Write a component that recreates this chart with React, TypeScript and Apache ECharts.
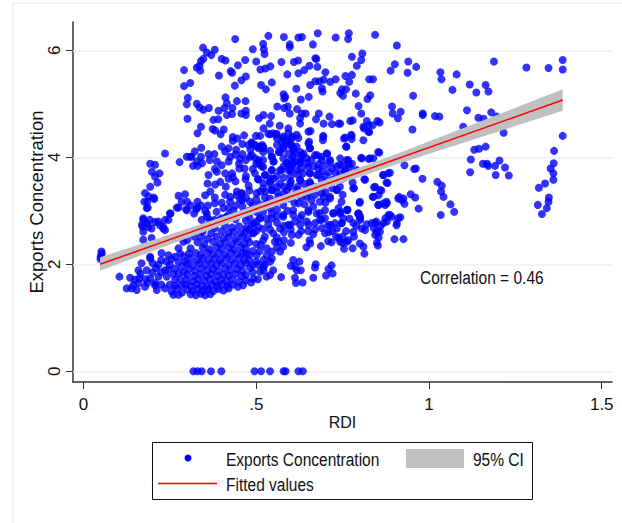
import React, { useEffect, useRef } from "react";
import * as echarts from "echarts";

const upperLeft: number[][] = [
[.439,6.21],[.535,6.27],[.58,6.25],[.678,6.32],[.622,6.24],[.632,6.25],[.597,6.11],[.597,6.06],[.52,6.12],[.522,6.02],[.524,5.93],[.49,6.02],[.664,6.11],[.73,6.24],
[.346,6.05],[.357,5.96],[.37,5.91],[.38,6.01],[.347,5.84],[.34,5.8],[.336,5.71],[.328,5.68],[.338,5.62],[.291,5.63],[.309,5.39],[.291,5.33],[.4,5.84],[.411,5.81],
[.447,5.72],[.468,5.82],[.5,5.79],[.426,5.61],[.43,5.58],[.392,5.53],[.573,5.78],[.512,5.64],[.526,5.66],[.541,5.7],[.609,5.78],[.621,5.81],[.654,5.71],[.677,5.69],[.671,5.85],[.674,5.84],
[.59,5.55],[.622,5.57],[.639,5.63],[.7,5.59],[.47,5.51],[.457,5.44],[.438,5.34],[.514,5.35],[.528,5.27],[.545,5.4],[.616,5.28],[.656,5.35],[.671,5.42],[.683,5.42],[.695,5.45],[.69,5.29],[.692,5.23],
[.714,5.41],[.73,5.46],[.743,5.2],[.579,5.18],[.584,5.13],[.581,5.1],[.629,5.08],[.652,5.13],[.302,5.11],[.299,4.99],[.328,5],[.336,4.93],[.347,4.89],[.363,4.92],
[.411,5.12],[.415,5.01],[.408,4.92],[.391,4.87],[.431,4.92],[.415,4.79],[.43,4.81],[.444,5.05],[.469,5.05],[.457,4.82],[.47,4.87],[.47,4.79],[.301,4.72],[.376,4.7],[.39,4.71],
[.561,4.95],[.581,4.92],[.591,4.95],[.597,4.82],[.618,4.9],[.632,4.82],[.627,4.73],[.627,4.63],[.643,4.82],[.508,4.73],[.521,4.79],[.543,4.77],[.539,4.63],
[.681,4.82],[.673,4.71],[.695,4.63],[.712,4.76],[.719,4.62],[.738,4.63],[.568,4.59],[.593,4.54],[.521,4.54],[.34,4.57],[.33,4.45],[.374,4.53],[.381,4.5],[.406,4.52],[.397,4.43],
[.657,4.49],[.694,4.4],[.693,4.32],[.432,4.38],[.445,4.35],[.432,4.31],[.465,4.41],[.499,4.4],[.511,4.4],[.541,4.43],[.558,4.42],
[.579,4.39],[.604,4.39],[.622,4.36],[.589,4.29],[.598,4.23],[.608,4.17],[.579,4.17],[.56,4.23],[.565,4.1],[.574,4.29],[.653,4.29],[.656,4.17],
[.487,4.28],[.478,4.23],[.517,4.23],[.507,4.17],[.521,4.17],[.483,4.14],[.487,4.04],[.497,3.98],[.507,3.95],[.4,4.2],[.42,4.17],[.41,4.11],[.442,4.14],[.425,4.01],[.42,3.92],
[.341,4.18],[.322,4.11],[.313,4.01],[.299,4.01],[.309,4.01],[.236,4.07],[.278,3.91],[.362,4.06],[.379,4.06],[.34,4.01],[.365,3.95],[.386,3.92],[.328,3.92],[.317,3.84],[.33,3.84],[.343,3.89],
[.453,3.97],[.545,4.01],[.55,3.92],[.613,4.07],[.637,4.07],[.627,3.92],[.608,3.89],[.598,3.79],[.579,3.83],[.589,3.89],[.569,3.76],[.618,3.76],
[.647,3.98],[.676,4.04],[.69,3.95],[.705,4.07],[.714,3.92],[.733,3.83],[.743,3.98],[.666,3.83],[.647,3.89],
[.193,3.88],[.207,3.86],[.198,3.73],[.22,3.7],[.207,3.64],[.214,3.53],[.193,3.45],[.178,3.33],[.203,3.25],[.188,3.27],[.275,3.28],[.294,3.31],[.352,3.29],[.367,3.36],
[.362,3.67],[.359,3.51],[.381,3.49],[.396,3.54],[.412,3.45],[.386,3.73],[.41,3.7],[.43,3.7],[.432,3.63],[.451,3.79],[.466,3.79],[.469,3.59],[.478,3.47],
[.505,3.59],[.516,3.83],[.526,3.67],[.545,3.76],[.55,3.6],[.569,3.51],[.56,3.45],[.598,3.51],[.627,3.57],[.656,3.7],[.68,3.67],[.656,3.51],[.7,3.51],[.733,3.39],
[.425,3.26],[.444,3.36],[.458,3.33],[.512,3.36],[.526,3.36],[.545,3.39],[.589,3.39],[.618,3.39],[.647,3.26],[.695,3.26],[.714,3.26],
];

const upperRight: number[][] = [
[.768,6.32],[.766,6.21],[.844,6.29],[.907,6.09],[.807,5.94],[.804,5.82],[.777,5.88],[.791,5.71],[.901,5.74],[.889,5.62],[.94,5.79],[.938,5.58],[.963,5.69],
[1.033,5.59],[1.036,5.46],[1.08,5.55],[1.188,5.79],[1.282,5.68],[1.346,5.67],[1.387,5.82],[1.387,5.64],[1.118,5.36],[1.068,5.26],[1.137,5.21],[1.164,5.35],[1.172,5.23],
[.758,5.52],[.777,5.54],[.769,5.41],[.827,5.46],[.838,5.46],[.748,5.27],[.76,5.27],[.751,5.15],[.788,5.19],[.822,5.09],[.83,5.16],[.954,5.15],[.796,4.96],[.804,4.82],
[.893,4.95],[.895,4.82],[.918,4.85],[.91,4.73],[.982,4.82],[.982,4.79],[1.017,4.77],[1.03,4.76],[1.11,4.88],[1.143,4.74],[1.158,4.72],[1.18,4.84],[1.196,4.76],[1.099,4.57],
[.772,4.68],[.779,4.69],[.743,4.63],[.82,4.68],[.81,4.57],[.825,4.6],[.837,4.6],[.851,4.68],[.857,4.65],[.812,4.54],[.827,4.47],[.952,4.52],[1.216,4.46],
[.754,4.35],[.775,4.42],[.776,4.34],[.81,4.32],[.761,4.2],[1.387,4.4],[1.362,4.12],[1.131,4.14],[1.145,4.16],[1.164,4.2],[.856,4.09],[.839,3.98],[.825,3.97],[.804,3.99],
[1.121,3.96],[1.156,3.88],[1.171,3.84],[1.168,3.88],[1.204,3.94],[1.191,3.84],[1.22,3.81],[1.193,3.67],[1.231,3.66],[1.119,3.72],[1.361,3.89],[1.352,3.79],[1.36,3.7],[1.36,3.58],
[1.336,3.51],[1.318,3.43],[1.347,3.25],[.929,3.85],[.957,3.78],[.962,3.79],[.981,3.6],[.867,3.67],[.887,3.71],[.88,3.52],[1.024,3.54],[1.037,3.47],[1.035,3.36],[1.042,3.26],
[.813,3.59],[.779,3.53],[.783,3.42],[.841,3.44],[.862,3.38],[.854,3.29],[.837,3.26],[.914,3.26],[.926,3.23],[.947,3.31],[.96,3.25],[.767,3.88],[.75,3.85],[.762,3.95],[.777,3.88],[.743,3.7],[.757,3.73],
];

const lowerRight: number[][] = [
[1.346,3.17],[1.315,3.11],[1.341,3.05],[1.327,2.94],[1.062,3.12],[1.034,2.92],[1.073,2.98],[.97,3.04],[.929,3.13],[.921,3.2],[.854,3.11],[.868,3.14],[.878,3.14],[.873,3.11],[.799,3.15],
[.764,3.02],[.743,2.95],[.748,2.77],[.781,2.77],[.801,2.89],[.796,2.95],[.834,2.77],[.847,2.8],[.868,2.77],[.883,2.92],[.892,2.89],[.907,2.77],[.917,2.88],[.878,2.8],
[.781,2.61],[.806,2.67],[.815,2.64],[.849,2.61],[.858,2.61],[.844,2.55],[.854,2.5],[.783,2.52],[.767,2.45],[.75,2.52],[.9,2.47],[.926,2.47],
[.849,2.4],[.852,2.35],[.813,2.2],[.81,2.33],[.8,2.39],[.779,2.3],[.754,2.29],[.743,2.42],[.762,2.42],
];

const lowerMiddle: number[][] = [
[.607,2.08],[.6,1.97],[.625,2.05],[.612,1.96],[.629,1.89],[.617,1.89],[.672,2],[.67,1.94],[.718,1.98],[.709,1.91],[.721,1.83],[.702,1.79],[.572,1.76],[.612,1.75],[.615,1.65],[.634,1.66],[.665,1.75],
[.645,2.32],[.656,2.39],[.665,2.56],[.687,2.34],[.654,2.45],[.699,2.58],[.708,2.43],[.718,2.41],[.731,2.52],[.738,2.49],
[.603,2.55],[.622,2.55],[.593,2.74],[.569,2.67],[.612,2.8],[.627,2.74],[.651,2.74],[.67,2.77],[.684,2.83],[.699,2.86],[.714,2.74],[.733,2.67],[.747,2.77],
[.578,2.33],[.569,2.24],[.545,2.24],[.545,2.11],[.54,2.05],[.53,2.17],[.525,2.52],[.549,2.58],[.554,2.42],[.564,2.42],[.513,2.37],[.53,2.3],[.501,2.17],[.521,2.08],[.506,1.99],[.482,1.93],[.492,1.73],[.53,1.77],[.549,1.89],[.54,1.8],[.521,1.89],[.525,1.99],[.511,1.86],
[.487,2.74],[.511,2.86],[.545,2.86],[.578,2.92],[.607,2.92],[.627,2.86],[.492,2.58],[.506,2.7],[.651,2.98],[.684,2.96],[.723,2.96],[.743,2.98],[.763,3.02],[.796,2.95],[.801,2.83],
];

const leftSide: number[][] = [
[.185,3.17],[.176,3.17],[.183,3.05],[.205,3.22],[.27,3.06],[.284,3.17],[.3,3.17],[.299,3.01],[.33,3.17],[.327,3.03],
[.25,2.95],[.236,2.83],[.221,2.73],[.207,2.79],[.173,2.86],[.183,2.77],[.197,2.67],[.231,2.7],[.188,2.7],[.171,2.7],
[.352,3],[.357,2.89],[.342,2.83],[.366,2.83],[.38,3.14],[.385,2.98],[.405,3.05],[.424,3.17],[.443,3.29],[.458,3.32],[.472,2.98],[.453,3.2],[.434,3],[.414,2.89],[.395,2.83],[.38,2.83],
[.186,3.06],[.173,2.83],[.192,2.83],[.216,2.8],[.231,2.67],[.246,2.83],[.252,2.95],[.275,3.06],[.297,3.03],[.329,3.06],[.357,2.95],[.371,2.8],[.169,2.74],[.173,2.61],[.173,2.46],[.197,2.49],[.236,2.64],
[.052,2.24],[.05,2.15],[.049,2.1],[.053,2.2],[.104,1.77],
[.135,1.75],[.149,1.71],[.162,1.74],[.125,1.55],[.139,1.55],[.154,1.52],[.178,1.58],[.193,1.74],[.183,1.89],[.159,1.89],[.168,2.02],[.193,2.11],[.173,2.27],[.193,2.14],[.226,2.21],[.246,2.17],[.265,2.14],[.275,2.3],[.289,2.42],
[.217,1.99],[.236,1.89],[.25,1.99],[.265,1.92],[.284,1.96],[.275,1.83],[.241,1.77],[.217,1.77],[.207,1.65],[.212,1.52],[.236,1.55],[.265,1.71],[.27,1.55],[.284,1.61],[.255,1.49],[.275,1.43],[.26,1.43],[.285,1.47],[.207,1.61],[.144,1.61],
];

const denseMass: number[][] = [
[.31,1.44],[.325,1.42],[.34,1.45],[.352,1.42],[.367,1.44],[.3,1.53],[.316,1.5],[.33,1.54],[.345,1.51],[.36,1.53],[.376,1.5],[.39,1.54],[.405,1.51],[.42,1.55],
[.295,1.62],[.31,1.59],[.328,1.63],[.343,1.6],[.358,1.58],[.372,1.62],[.387,1.6],[.402,1.63],[.417,1.6],[.432,1.62],[.447,1.58],[.462,1.61],
[.298,1.71],[.315,1.68],[.332,1.72],[.35,1.69],[.366,1.72],[.382,1.68],[.398,1.71],[.414,1.69],[.43,1.72],[.45,1.68],[.47,1.7],[.485,1.66],[.505,1.72],
[.3,1.81],[.32,1.78],[.338,1.82],[.355,1.79],[.37,1.82],[.388,1.78],[.405,1.81],[.42,1.79],[.44,1.82],[.458,1.78],[.47,1.8],
[.305,1.91],[.322,1.88],[.34,1.92],[.358,1.89],[.375,1.91],[.39,1.88],[.41,1.92],[.425,1.89],[.445,1.91],[.46,1.88],
[.3,2.01],[.318,1.98],[.335,2.02],[.352,1.99],[.37,2.01],[.385,1.98],[.4,2.02],[.42,1.99],[.438,2.01],[.455,1.98],[.47,2.02],[.49,1.98],
[.31,2.11],[.33,2.08],[.345,2.12],[.362,2.09],[.38,2.11],[.395,2.08],[.415,2.12],[.43,2.09],[.45,2.11],[.465,2.08],
[.325,2.21],[.34,2.18],[.36,2.22],[.375,2.19],[.392,2.21],[.41,2.18],[.428,2.22],[.445,2.19],[.46,2.21],[.48,2.18],
[.345,2.31],[.365,2.28],[.385,2.32],[.4,2.29],[.42,2.31],[.435,2.28],[.455,2.32],[.47,2.29],
[.33,2.41],[.35,2.38],[.375,2.42],[.395,2.39],[.41,2.41],[.43,2.38],[.445,2.42],[.465,2.39],[.48,2.41],[.5,2.38],
[.34,2.51],[.36,2.48],[.385,2.52],[.405,2.49],[.42,2.51],[.44,2.48],[.46,2.52],[.475,2.49],
[.345,2.61],[.37,2.58],[.4,2.62],[.42,2.59],[.435,2.61],[.455,2.58],[.47,2.62],[.49,2.59],
[.355,2.71],[.38,2.68],[.41,2.72],[.43,2.69],[.45,2.71],[.47,2.68],[.4,2.86],[.42,2.92],[.44,2.84],[.46,2.95],[.48,2.88],[.5,2.98],
];

const centerBand: number[][] = [
[.511,4.2],[.497,4.23],[.52,4.1],[.545,4.01],[.55,3.92],[.525,3.67],[.545,3.76],[.506,3.59],[.54,3.61],[.573,3.76],[.588,3.89],[.607,4.01],[.603,3.86],[.627,3.89],[.632,4.04],[.651,4.26],[.655,4.17],[.67,4.04],[.689,4.01],[.704,4.07],[.713,3.95],
[.636,3.7],[.655,3.7],[.675,3.67],[.689,3.58],[.627,3.58],[.598,3.45],[.655,3.54],[.68,3.79],[.588,4.32],[.602,4.35],[.578,4.2],[.602,4.23],[.617,4.2],[.593,4.07],[.607,4.14],[.627,4.1],[.569,4.1],[.578,3.98],[.593,3.76],[.612,3.92],
[.742,3.86],[.766,3.95],[.771,3.82],[.757,3.76],[.791,3.76],[.805,3.98],[.829,3.98],[.853,4.1],[.844,3.45],[.858,3.39],[.882,3.7],[.868,3.67],[.877,3.53],[.815,3.58],[.839,3.26],[.853,3.11],[.877,3.17],[.911,3.23],[.8,3.17],[.781,3.42],[.733,3.39],[.742,3.45],
[.713,3.23],[.747,3.17],[.738,3.05],[.763,3.01],[.795,2.95],[.8,2.86],[.844,2.77],[.874,2.86],[.887,2.92],[.911,2.86],[.906,2.73],
[.675,3.45],[.651,3.33],[.689,3.33],[.684,3.17],[.665,3.08],[.651,3.01],[.622,3.14],[.593,3.23],[.564,3.26],[.545,3.39],[.52,3.42],[.501,3.33],[.482,3.17],[.54,3.23],[.578,3.11],[.607,3.01],[.632,2.92],[.675,2.95],[.699,3.01],[.723,2.95],[.578,2.89],[.545,2.95],[.511,2.86],[.492,2.77],[.598,2.73],[.646,2.8],[.689,2.83],[.708,2.73],[.728,2.77],[.752,2.86],
[.487,4.26],[.501,4.2],[.52,4.2],[.482,4.01],[.506,3.89],[.496,3.7],[.52,3.82],[.549,4.45],[.535,4.44],[.559,4.44],[.578,4.35],[.593,4.45],[.617,4.42],[.651,4.48],[.694,4.38],[.757,4.37],[.776,4.4],[.76,4.2],[.825,4.48],
];

const fillLeft: number[][] = [
[.165,1.82],[.18,1.72],[.2,1.85],[.21,1.93],[.225,1.85],[.245,1.9],[.26,1.82],[.28,1.72],[.2,2.02],[.225,2.08],[.24,2.05],[.255,2.1],[.275,2.05],[.29,2.15],[.31,2.3],[.3,2.45],[.32,2.52],[.28,2.2],[.185,1.65],[.16,1.65],[.225,1.62],[.25,1.62],[.265,1.6],[.29,1.85],[.295,2.05],[.305,2.2],
[.36,3.1],[.38,3.25],[.4,3.15],[.41,3.3],[.42,3.05],[.44,3.1],[.46,3.2],[.34,3.1],[.31,3.1],[.32,2.95],
];

const fillMiddle: number[][] = [
[.48,2.65],[.5,2.62],[.52,2.66],[.535,2.75],[.56,2.78],[.58,2.72],[.47,2.82],[.5,2.8],[.53,2.85],[.56,2.9],[.48,3.0],[.5,3.02],[.52,2.98],[.54,3.05],[.56,3.02],[.59,3.0],[.46,3.08],[.49,3.1],[.51,3.12],[.53,3.14],[.555,3.15],[.575,3.2],[.47,3.25],[.5,3.22],[.525,3.25],[.56,3.35],[.58,3.32],[.61,3.3],[.63,3.25],[.48,3.38],[.52,3.52],[.54,3.5],[.58,3.45],[.6,3.55],[.62,3.45],[.64,3.5],[.6,3.65],[.62,3.68],[.58,3.62],[.56,3.65],[.65,3.4],[.67,3.3],[.66,3.2],[.7,3.15],[.64,3.12],[.61,3.15],
[.6,3.75],[.63,3.8],[.65,3.82],[.68,3.87],[.7,3.85],[.72,3.8],[.69,3.74],[.71,3.72],[.73,3.7],[.75,3.6],[.72,3.58],[.7,3.65],[.66,3.95],[.63,3.98],[.6,3.95],[.7,3.35],[.72,3.42],[.75,3.3],
[.56,2.5],[.58,2.6],[.6,2.65],[.63,2.62],[.65,2.62],[.67,2.65],[.69,2.68],[.71,2.6],[.72,2.62],[.56,2.32],[.58,2.45],[.6,2.4],[.52,2.45],[.54,2.65],[.77,2.85],[.79,2.72],[.76,2.62],[.75,2.4],[.82,2.75],[.84,2.68],[.86,2.72],
[.44,3.55],[.47,3.65],[.49,3.78],[.5,3.88],[.45,3.88],[.47,3.95],[.46,4.06],[.44,4.05],[.4,3.85],[.38,3.78],[.42,3.6],[.46,4.25],[.54,3.55],[.52,3.95],[.54,4.12],[.56,4.35],
[.5,2.05],[.49,1.85],[.48,2.08],[.47,2.2],[.49,2.25],[.51,2.25],[.52,1.95],
];

const zeroRow: number[][] = [
[.318,0],[.33,0],[.342,0],[.369,0],[.399,0],[.495,0],[.514,0],[.54,0],[.579,0],[.585,0],[.622,0],[.635,0],
];

const allPoints = [...upperLeft, ...upperRight, ...lowerRight, ...lowerMiddle, ...leftSide, ...denseMass, ...centerBand, ...fillLeft, ...fillMiddle, ...zeroRow];

const fitX = [0.048, 1.387];
const fitY = [2.0, 5.07];
const ciX = [.048, .2, .35, .5, .7, .9, 1.1, 1.25, 1.387];
const ciUpper = [2.13, 2.45, 2.77, 3.11, 3.575, 4.05, 4.55, 4.925, 5.27];
const ciLower = [1.88, 2.25, 2.61, 2.96, 3.415, 3.855, 4.27, 4.585, 4.87];
const xTicks = [0, 0.5, 1, 1.5];
const xTickLabels = ["0", ".5", "1", "1.5"];
const yTicks = [0, 2, 4, 6];
const seriesNames = ["Exports Concentration", "95% CI", "Fitted values"];
const note = "Correlation = 0.46";

const FRAME = "#eaf2f3";
const AXIS = "#333333";
const BLUE = "#0000ff";
const RED = "#ff0000";
const BAND = "#c0c0c0";
const FONT = '"Liberation Sans", Arial, sans-serif';
const SQUEEZE = 0.825;

function label(text: string, x: number, y: number) {
  return {
    type: "text", x, y, scaleX: SQUEEZE, silent: true,
    style: { text, fill: "#111111", font: `18.8px ${FONT}`, textVerticalAlign: "middle" },
  };
}

export default function App() {
  const ref = useRef<HTMLDivElement>(null);
  useEffect(() => {
    document.body.style.margin = "0";
    const chart = echarts.init(ref.current!, null, { renderer: "svg" });
    const axisCommon = {
      axisLine: { show: true, onZero: false, lineStyle: { color: AXIS, width: 1.5 } },
      axisTick: { show: true, length: 7, lineStyle: { color: AXIS, width: 1 } },
      splitLine: { show: false },
    };
    chart.setOption({
      animation: false,
      backgroundColor: "#ffffff",
      grid: { left: 73, right: 10, top: 22, bottom: 141 },
      xAxis: {
        type: "value", min: -0.0304, max: 1.5297,
        ...axisCommon,
        axisTick: { ...axisCommon.axisTick, customValues: xTicks },
        axisLabel: {
          customValues: xTicks, color: "#111111", fontFamily: FONT, fontSize: 17, margin: 14,
          formatter: (v: number) => xTickLabels[xTicks.indexOf(v)] ?? "",
        },
        name: "RDI", nameLocation: "middle", nameGap: 32, nameMoveOverlap: false,
        nameTextStyle: { color: "#111111", fontFamily: FONT, fontSize: 16 },
      },
      yAxis: {
        type: "value", min: -0.2, max: 6.529,
        ...axisCommon,
        axisTick: { ...axisCommon.axisTick, customValues: yTicks },
        axisLabel: {
          customValues: yTicks, rotate: 90, color: "#111111", fontFamily: FONT, fontSize: 17, margin: 10,
        },
        name: seriesNames[0], nameLocation: "middle", nameGap: 27, nameMoveOverlap: false,
        nameTextStyle: { color: "#111111", fontFamily: FONT, fontSize: 18.5 },
      },
      series: [
        {
          type: "scatter", name: seriesNames[0], data: allPoints, symbol: "circle", symbolSize: 8,
          itemStyle: { color: BLUE }, silent: true, z: 3,
          markLine: {
            silent: true, symbol: "none", label: { show: false }, animation: false, z: 1,
            lineStyle: { color: FRAME, width: 1.5, type: "solid" },
            data: yTicks.map((v) => ({ yAxis: v })),
          },
        },
        {
          type: "custom", name: seriesNames[1], silent: true, z: 4,
          data: ciX.map((x, i) => [x, ciUpper[i], ciLower[i]]),
          renderItem: (params: any, api: any) => {
            if (params.dataIndex !== 0) return null;
            const up = ciX.map((x, i) => api.coord([x, ciUpper[i]]));
            const lo = ciX.map((x, i) => api.coord([x, ciLower[i]])).reverse();
            return { type: "polygon", shape: { points: [...up, ...lo] }, style: { fill: BAND } };
          },
        },
        {
          type: "line", name: seriesNames[2], data: fitX.map((x, i) => [x, fitY[i]]), showSymbol: false,
          silent: true, z: 5, lineStyle: { color: RED, width: 1.5 },
        },
      ],
      graphic: [
        { type: "rect", silent: true, z: -1, shape: { x: 13, y: 3, width: 700, height: 600 }, style: { fill: "none", stroke: FRAME, lineWidth: 1.5 } },
        label(note, 420, 277),
        { type: "rect", silent: true, shape: { x: 152.5, y: 442.5, width: 380, height: 57 }, style: { fill: "#ffffff", stroke: "#111111", lineWidth: 1 } },
        { type: "circle", silent: true, shape: { cx: 188, cy: 458, r: 3.5 }, style: { fill: BLUE } },
        label(seriesNames[0], 226, 459),
        { type: "rect", silent: true, shape: { x: 406, y: 449, width: 58, height: 19 }, style: { fill: BAND } },
        label(seriesNames[1], 473, 459),
        { type: "line", silent: true, shape: { x1: 158, y1: 483.5, x2: 217, y2: 483.5 }, style: { stroke: RED, lineWidth: 1.5 } },
        label(seriesNames[2], 226, 484),
      ],
    });
    return () => chart.dispose();
  }, []);
  return <div ref={ref} style={{ position: "absolute", left: 0, top: 0, width: 622, height: 523 }} />;
}
